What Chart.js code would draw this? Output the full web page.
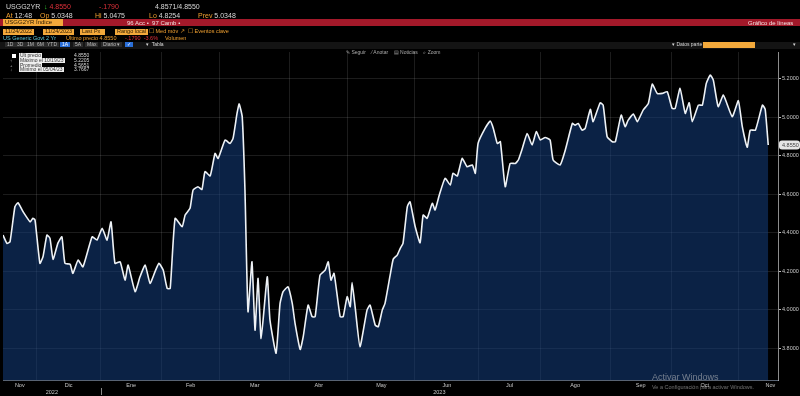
<!DOCTYPE html>
<html>
<head>
<meta charset="utf-8">
<script src="https://cdn.jsdelivr.net/npm/chart.js@4.4.1/dist/chart.umd.min.js"></script>
<style>
  html, body { margin: 0; padding: 0; background: #000; }
  body { width: 800px; height: 396px; position: relative; overflow: hidden; font-family: "Liberation Sans", Arial, sans-serif; }
  #wrap { position: absolute; left: 0; top: 0; width: 800px; height: 396px; }
  .t { position: absolute; white-space: nowrap; line-height: 1; }
  .w { color: #d8d8d8; }
  .o { color: #f0a030; }
  .r { color: #e0303a; }
  .box { background: #f3a93b; color: #2a1a00; padding: 0 2px; }
  .btn { background: #2b2b2b; color: #bbb; padding: 0 2px; }
</style>
</head>
<body>
<div id="wrap"><canvas id="lineChart" width="800" height="396"></canvas></div>

<!-- cabecera estilo terminal -->
<div class="t w" style="left:6px;top:3px;font-size:7px;">USGG2YR</div>
<div class="t r" style="left:44px;top:3px;font-size:7px;"><span style="color:#3c3">↓</span> 4.8550</div>
<div class="t r" style="left:99px;top:3px;font-size:7px;">-.1790</div>
<div class="t w" style="left:155px;top:3px;font-size:7px;">4.8571/4.8550</div>

<div class="t" style="left:6px;top:12px;font-size:7px;"><span class="o">At</span> <span class="w">12:48</span></div>
<div class="t" style="left:40px;top:12px;font-size:7px;"><span class="o">Op</span> <span class="w">5.0348</span></div>
<div class="t" style="left:95px;top:12px;font-size:7px;"><span class="o">Hi</span> <span class="w">5.0475</span></div>
<div class="t" style="left:149px;top:12px;font-size:7px;"><span class="o">Lo</span> <span class="w">4.8254</span></div>
<div class="t" style="left:198px;top:12px;font-size:7px;"><span class="o">Prev</span> <span class="w">5.0348</span></div>

<div class="t" style="left:0;top:19px;width:800px;height:7px;background:#a3192a;"></div>
<div class="t box" style="left:3px;top:19px;width:56px;height:7px;font-size:6px;">USGG2YR Índice</div>
<div class="t" style="left:127px;top:20px;font-size:6px;color:#f2e0e0;">96 Acc •&nbsp; 97 Camb •</div>
<div class="t" style="left:748px;top:20px;font-size:6px;color:#f2e0e0;">Gráfico de líneas</div>

<div class="t box" style="left:3px;top:29px;font-size:5.5px;">11/24/2022</div>
<div class="t box" style="left:43px;top:29px;font-size:5.5px;">11/24/2023</div>
<div class="t box" style="left:80px;top:29px;font-size:5.5px;">Last Px&nbsp;&nbsp;</div>
<div class="t box" style="left:115px;top:29px;font-size:5.5px;">Rango local</div>
<div class="t o" style="left:149px;top:29px;font-size:5.5px;">☐ Med móv ↗</div>
<div class="t o" style="left:188px;top:29px;font-size:5.5px;">☐ Eventos clave</div>

<div class="t" style="left:3px;top:36px;font-size:5.5px;color:#5fc8d8;">US Generic Govt 2 Yr</div>
<div class="t o" style="left:66px;top:36px;font-size:5.5px;">Último precio 4.8550</div>
<div class="t r" style="left:125px;top:36px;font-size:5.5px;">-.1790&nbsp; -3.6%</div>
<div class="t o" style="left:165px;top:36px;font-size:5.5px;">Volumen</div>

<div class="t" style="left:0;top:42px;width:800px;height:7px;background:#141414;"></div>
<div class="t btn" style="left:5px;top:42px;font-size:5px;">1D</div>
<div class="t btn" style="left:15px;top:42px;font-size:5px;">3D</div>
<div class="t btn" style="left:25px;top:42px;font-size:5px;">1M</div>
<div class="t btn" style="left:35px;top:42px;font-size:5px;">6M</div>
<div class="t btn" style="left:45px;top:42px;font-size:5px;">YTD</div>
<div class="t btn" style="left:60px;top:42px;font-size:5px;background:#2a6fd8;color:#fff;">1A</div>
<div class="t btn" style="left:73px;top:42px;font-size:5px;">5A</div>
<div class="t btn" style="left:85px;top:42px;font-size:5px;">Máx</div>
<div class="t btn" style="left:101px;top:42px;font-size:5px;">Diario ▾</div>
<div class="t btn" style="left:125px;top:42px;font-size:5px;background:#2a6fd8;color:#fff;">✓</div>
<div class="t w" style="left:146px;top:42px;font-size:5px;">▾&nbsp; Tabla</div>
<div class="t w" style="left:672px;top:42px;font-size:5px;">▾ Datos parte</div>
<div class="t box" style="left:703px;top:42px;width:48px;height:6px;font-size:5px;"></div>
<div class="t w" style="left:793px;top:42px;font-size:5px;">▾</div>

<div class="t" style="left:346px;top:50px;font-size:5px;color:#aaa;">✎ Seguir&nbsp;&nbsp;&nbsp; ⁄ Anotar&nbsp;&nbsp;&nbsp; ▤ Noticias&nbsp;&nbsp;&nbsp; ⌕ Zoom</div>

<!-- leyenda -->
<div class="t" style="left:12px;top:54px;width:4px;height:4px;background:#fff;"></div>
<div class="t" style="left:19px;top:53px;font-size:5px;background:#eee;color:#333;padding:0 1px;">Últ precio</div>
<div class="t w" style="left:74px;top:53px;font-size:5px;">4.8550</div>
<div class="t" style="left:10px;top:59px;font-size:4px;color:#ccc;">↑</div>
<div class="t" style="left:19px;top:58px;font-size:5px;background:#eee;color:#333;padding:0 1px;">Máximo el 10/19/23</div>
<div class="t w" style="left:74px;top:58px;font-size:5px;">5.2205</div>
<div class="t" style="left:10px;top:64px;font-size:4px;color:#ccc;">+</div>
<div class="t" style="left:19px;top:63px;font-size:5px;background:#eee;color:#333;padding:0 1px;">Promedio</div>
<div class="t w" style="left:74px;top:63px;font-size:5px;">4.5651</div>
<div class="t" style="left:10px;top:68px;font-size:4px;color:#ccc;">↓</div>
<div class="t" style="left:19px;top:67px;font-size:5px;background:#eee;color:#333;padding:0 1px;">Mínimo el 05/04/23</div>
<div class="t w" style="left:74px;top:67px;font-size:5px;">3.7667</div>

<!-- marca de agua -->
<div class="t" style="left:652px;top:373px;font-size:9px;color:rgba(200,200,200,0.55);">Activar Windows</div>
<div class="t" style="left:652px;top:385px;font-size:5.5px;color:rgba(200,200,200,0.55);">Ve a Configuración para activar Windows.</div>

<script>
// Día hábil (índice) y rendimiento del bono a 2 años
const dia = [
    0, 1.3, 2.3, 3.9, 4.9, 6.6, 8.9, 9.8, 10.5, 12.1, 13.1, 14.4, 15.4, 16.4, 18.0, 19.3, 20.3, 22.0, 22.9,
    24.6, 26.2, 29.2, 30.8, 32.5, 34.1, 35.4, 36.7, 38.4, 40.0, 41.0, 43.3, 44.9, 46.6, 48.2, 49.8, 51.1,
    52.5, 53.8, 54.8, 56.4, 58.7, 59.7, 61.3, 62.3, 63.9, 65.2, 66.2, 67.9, 69.5, 70.5, 72.8, 74.4, 75.4,
    76.7, 77.4, 78.4, 79.3, 80.3, 81.6, 82.6, 83.6, 84.6, 86.6, 87.5, 89.5, 90.8, 91.8, 93.4, 94.8, 95.7,
    97.4, 98.4, 100.0, 101.3, 102.3, 103.9, 105.6, 106.6, 107.5, 108.5, 110.5, 111.5, 112.8, 113.8, 114.4,
    115.4, 117.0, 119.3, 120.3, 122.0, 123.0, 124.3, 125.2, 126.9, 127.9, 129.2, 130.2, 131.1, 132.5,
    133.4, 135.1, 136.7, 137.7, 139.0, 140.7, 141.6, 143.0, 144.9, 146.6, 147.5, 148.9, 150.5, 152.1,
    153.8, 154.8, 155.7, 158.0, 159.7, 160.7, 162.0, 163.0, 164.6, 166.2, 167.9, 168.9, 170.2, 171.8,
    173.4, 174.8, 176.1, 177.7, 179.3, 180.3, 182.6, 184.3, 186.6, 187.5, 188.5, 189.8, 190.8, 192.5,
    193.4, 195.7, 196.7, 198.0, 199.7, 200.7, 202.6, 203.9, 204.9, 206.6, 207.9, 209.8, 211.5, 212.8,
    214.4, 216.1, 217.7, 219.3, 220.3, 221.9, 223.6, 224.9, 225.9, 227.9, 229.2, 230.5, 231.8, 232.8,
    234.4, 236.1, 239.0, 241.0, 242.3, 243.9, 244.9, 246.6, 248.9, 249.8, 250.8
];
const rendimiento = [
    4.387, 4.344, 4.352, 4.534, 4.555, 4.508, 4.456, 4.474, 4.465, 4.240, 4.274, 4.387, 4.370, 4.261, 4.345, 4.378, 4.240, 4.235, 4.188,
    4.257, 4.222, 4.378, 4.361, 4.422, 4.361, 4.456, 4.240, 4.248, 4.153, 4.231, 4.093, 4.170, 4.231, 4.136, 4.196, 4.240,
    4.205, 4.110, 4.110, 4.474, 4.430, 4.491, 4.526, 4.621, 4.638, 4.624, 4.716, 4.694, 4.811, 4.785, 4.881, 4.863, 4.889,
    5.019, 5.068, 5.002, 4.621, 3.989, 4.248, 3.893, 4.162, 3.850, 4.170, 3.945, 3.773, 4.032, 4.093, 4.118, 4.032, 3.930,
    3.793, 3.859, 4.023, 3.963, 3.963, 4.179, 4.205, 4.248, 4.153, 4.188, 3.963, 3.963, 4.067, 4.015, 4.140,
    4.015, 3.807, 3.997, 4.023, 3.919, 3.911, 3.997, 4.032, 4.180, 4.262, 4.283, 4.318, 4.344, 4.534,
    4.560, 4.430, 4.347, 4.491, 4.474, 4.552, 4.517, 4.595, 4.682, 4.647, 4.708, 4.694, 4.785, 4.742,
    4.751, 4.708, 4.863, 4.941, 4.979, 4.941, 4.863, 4.872, 4.638, 4.759, 4.759, 4.777, 4.837, 4.915,
    4.855, 4.924, 4.881, 4.894, 4.881, 4.777, 4.751, 4.829, 4.967, 4.958, 4.967, 4.932, 4.941, 5.040,
    4.976, 5.074, 5.062, 4.898, 4.872, 4.872, 5.010, 4.950, 4.984, 5.016, 4.976, 5.036, 5.071, 5.171,
    5.123, 5.123, 5.132, 5.045, 5.045, 5.149, 5.019, 5.074, 4.976, 5.062, 5.062, 5.175, 5.218, 5.192,
    5.054, 5.114, 5.002, 5.085, 4.950, 4.843, 4.932, 4.932, 5.062, 5.040, 4.855
];

// Meses: nombre e índice del primer día hábil
const meses = ['Nov', 'Dic', 'Ene', 'Feb', 'Mar', 'Abr', 'May', 'Jun', 'Jul', 'Ago', 'Sep', 'Oct', 'Nov'];
const inicioMes = [0, 11, 32, 52, 71, 94, 113, 135, 156, 176, 199, 219, 241, 262];
const anios = ['2022', '2023'];
const inicioAnio = [0, 32, 254];
const ticksY = [3.8, 4.0, 4.2, 4.4, 4.6, 4.8, 5.0, 5.2];
const ultimo = 4.8550;

const X_MIN = 0, X_MAX = 254;
const FUENTE = '"Liberation Sans", Arial, sans-serif';

// posiciones de etiquetas (centro del mes / del año)
const centroMes = meses.map((m, i) => (inicioMes[i] + inicioMes[i + 1]) / 2);
const centroAnio = anios.map((a, i) => (inicioAnio[i] + inicioAnio[i + 1]) / 2);

const puntos = dia.map((d, i) => ({ x: d, y: rendimiento[i] }));

// Etiquetas de meses y años bajo el eje x, y separador de año
const etiquetasX = {
    id: 'etiquetasX',
    afterDraw(chart) {
        const ctx = chart.ctx;
        const sx = chart.scales.x;
        const base = chart.chartArea.bottom;
        ctx.save();
        ctx.fillStyle = '#c8c8c8';
        ctx.textAlign = 'center';
        ctx.textBaseline = 'middle';
        ctx.font = '5.5px ' + FUENTE;
        meses.forEach((m, i) => {
            ctx.fillText(m, sx.getPixelForValue(centroMes[i]), base + 5.5);
        });
        anios.forEach((a, i) => {
            ctx.fillText(a, sx.getPixelForValue(centroAnio[i]), base + 12.5);
        });
        ctx.strokeStyle = '#888';
        ctx.lineWidth = 1;
        const xs = Math.round(sx.getPixelForValue(inicioAnio[1])) + 0.5;
        ctx.beginPath();
        ctx.moveTo(xs, base + 8);
        ctx.lineTo(xs, base + 15);
        ctx.stroke();
        ctx.restore();
    }
};

// Etiqueta del último precio en el eje derecho
const etiquetaUltimo = {
    id: 'etiquetaUltimo',
    afterDraw(chart) {
        const ctx = chart.ctx;
        const y = chart.scales.y.getPixelForValue(ultimo);
        const x = chart.scales.y.left + 1;
        ctx.save();
        ctx.fillStyle = '#e6e6e6';
        ctx.beginPath();
        ctx.roundRect(x, y - 4.5, 21, 9, 3);
        ctx.fill();
        ctx.fillStyle = '#444';
        ctx.font = '5.5px ' + FUENTE;
        ctx.textBaseline = 'middle';
        ctx.fillText(ultimo.toFixed(4), x + 3, y + 0.5);
        ctx.restore();
    }
};

const config = {
    type: 'line',
    data: {
        datasets: [{
            data: puntos,
            borderColor: '#eef2f6',
            borderWidth: 1.6,
            backgroundColor: 'rgba(20, 62, 125, 0.55)',
            fill: 'start',
            pointRadius: 0,
            tension: 0.15
        }]
    },
    options: {
        responsive: false,
        animation: false,
        layout: { padding: { top: 52, left: 3, right: 0, bottom: 16 } },
        plugins: { legend: { display: false }, tooltip: { enabled: false } },
        scales: {
            x: {
                type: 'linear',
                min: X_MIN, max: X_MAX,
                position: 'bottom',
                afterBuildTicks: (s) => { s.ticks = inicioMes.slice(1, 13).map(v => ({ value: v })); },
                afterFit: (s) => { s.height = 0; },
                grid: { color: 'rgba(255,255,255,0.11)', drawTicks: false },
                border: { color: 'rgba(160,180,210,0.55)' },
                ticks: { display: false }
            },
            y: {
                type: 'linear',
                position: 'right',
                min: 3.634, max: 5.338,
                afterBuildTicks: (s) => { s.ticks = ticksY.map(v => ({ value: v })); },
                afterFit: (s) => { s.width = 22; },
                grid: { color: 'rgba(255,255,255,0.11)', tickColor: '#bbb', tickLength: 3 },
                border: { color: 'rgba(200,200,200,0.7)' },
                ticks: {
                    padding: 1,
                    color: '#c8c8c8',
                    font: { size: 5.5, family: FUENTE },
                    callback: (v) => v.toFixed(4)
                }
            }
        }
    },
    plugins: [etiquetasX, etiquetaUltimo]
};

const lineChart = new Chart(document.getElementById('lineChart'), config);
</script>
</body>
</html>
